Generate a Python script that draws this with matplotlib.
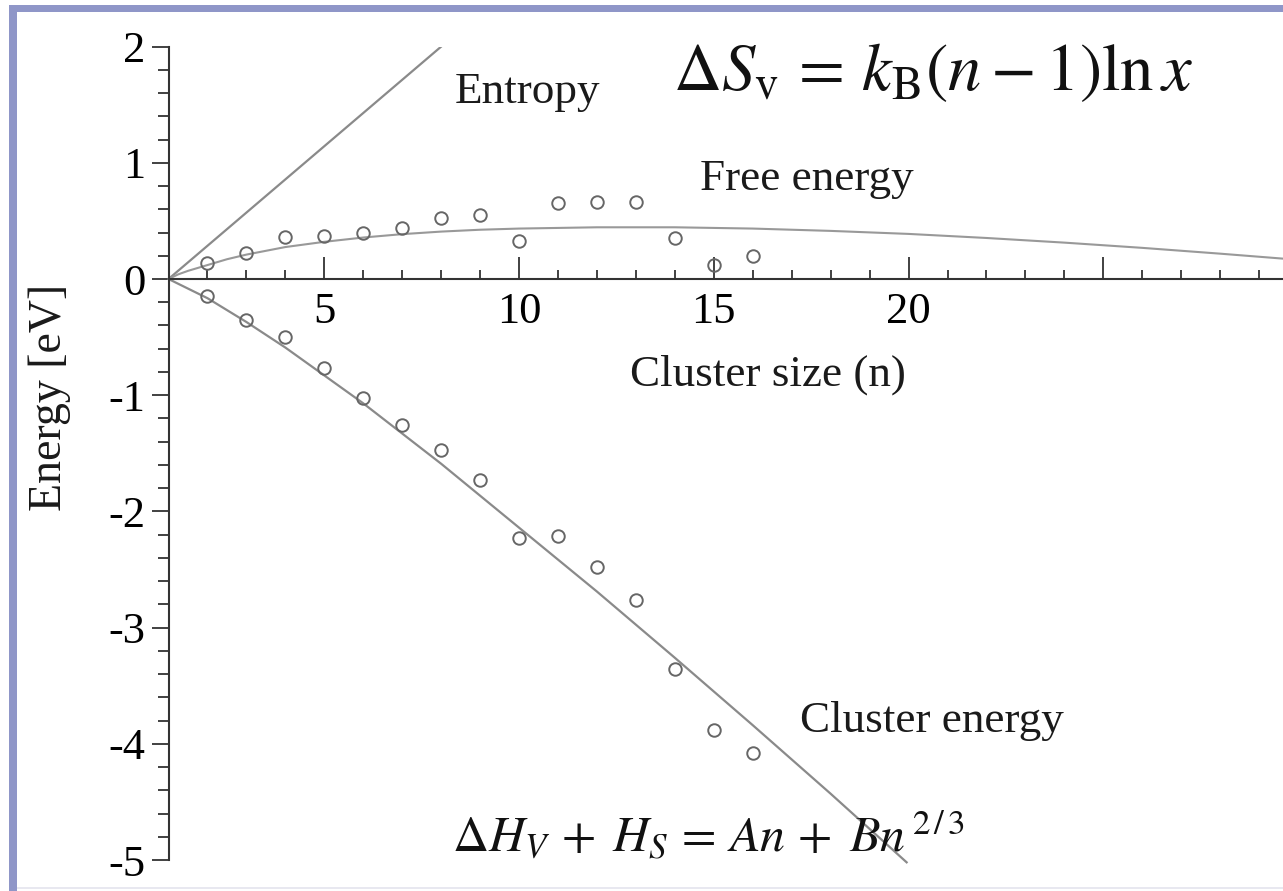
#!/usr/bin/env python
import numpy as np
from matplotlib import pyplot as plt
from matplotlib.patches import Rectangle
from matplotlib.ticker import FixedLocator, FixedFormatter, MultipleLocator

plt.rcParams['font.family'] = 'Liberation Serif'
plt.rcParams['mathtext.fontset'] = 'stix'
plt.rcParams['axes.unicode_minus'] = False

# computed points (open circles)
n_pts = [2, 3, 4, 5, 6, 7, 8, 9, 10, 11, 12, 13, 14, 15, 16]
free_pts = [0.14, 0.22, 0.36, 0.37, 0.40, 0.44, 0.525, 0.555, 0.33,
            0.65, 0.66, 0.66, 0.35, 0.12, 0.20]
cluster_pts = [-0.15, -0.35, -0.50, -0.77, -1.02, -1.26, -1.47, -1.73,
               -2.23, -2.21, -2.48, -2.76, -3.36, -3.88, -4.08]

# fitted curves
entropy_n = [1, 8]
entropy_e = [0.0, 2.0]

free_n = [1, 1.25, 1.5, 2, 2.5, 3, 4, 5, 6, 7, 8, 9, 10, 12, 14, 16, 18,
          20, 22, 24, 26, 28, 30]
free_e = [0.0, 0.04, 0.07, 0.12, 0.17, 0.21, 0.275, 0.32, 0.357, 0.386,
          0.408, 0.424, 0.434, 0.445, 0.445, 0.434, 0.414, 0.388, 0.353,
          0.313, 0.268, 0.218, 0.165]

cluster_n = [1, 2, 3, 4, 5, 6, 8, 10, 12, 14, 16, 18, 19.95]
cluster_e = [0.0, -0.165, -0.37, -0.59, -0.83, -1.07, -1.59, -2.14,
             -2.69, -3.26, -3.84, -4.43, -5.02]

xticks = [5, 10, 15, 20, 25]
xticklabels = ['5', '10', '15', '20', '']
yticks = [-5, -4, -3, -2, -1, 0, 1, 2]

W, H = 1283, 891
fig = plt.figure(figsize=(W / 100, H / 100), dpi=100)
ax = fig.add_axes([168.5 / W, 31.0 / H, 1129.6 / W, 813.4 / H])

line_col = '#8a8a8a'
ax.plot(entropy_n, entropy_e, '-', color=line_col, lw=1.6)
ax.plot(free_n, free_e, '-', color='#999999', lw=1.5)
ax.plot(cluster_n, cluster_e, '-', color=line_col, lw=1.6, clip_on=False)
ax.plot(n_pts, free_pts, 'o', mfc='none', mec='#666666', ms=9, mew=1.4)
ax.plot(n_pts, cluster_pts, 'o', mfc='none', mec='#666666', ms=9, mew=1.4)

ax.set_xlim(1, 30)
ax.set_ylim(-5, 2)

ax.spines['top'].set_visible(False)
ax.spines['right'].set_visible(False)
ax.spines['bottom'].set_position(('data', 0))
for s in ('left', 'bottom'):
    ax.spines[s].set_color('#333333')
    ax.spines[s].set_linewidth(1.5)

ax.xaxis.set_major_locator(FixedLocator(xticks))
ax.xaxis.set_major_formatter(FixedFormatter(xticklabels))
ax.xaxis.set_minor_locator(MultipleLocator(1))
ax.yaxis.set_major_locator(FixedLocator(yticks))
ax.yaxis.set_minor_locator(MultipleLocator(0.2))

ax.tick_params(axis='x', which='major', direction='in', length=16, width=1.3,
               color='#333333', labelsize=32, pad=9)
ax.tick_params(axis='x', which='minor', direction='in', length=6.5, width=1.3,
               color='#333333')
ax.tick_params(axis='y', which='major', direction='out', length=12.5, width=1.3,
               color='#333333', labelsize=32, pad=4)
ax.tick_params(axis='y', which='minor', direction='out', length=8, width=1.3,
               color='#333333')

lbl = dict(fontsize=32.5, color='#1a1a1a', ha='left', va='baseline')
ax.text(8.36, 1.515, 'Entropy', **lbl)
ax.text(14.65, 0.766, 'Free energy', **lbl)
ax.text(12.85, -0.92, 'Cluster size (n)', **lbl)
ax.text(17.21, -3.896, 'Cluster energy', **lbl)

fig.text(50 / W, 1 - 397 / H, 'Energy [eV]', rotation=90, fontsize=33,
         color='#1a1a1a', ha='center', va='center')

fig.text(673 / W, 1 - 90 / H,
         r'$\Delta S_{\rm v}\,=\,k_{\rm B}(n-1)\ln x$',
         fontsize=48, color='#111111', ha='left', va='baseline')
fig.text(452 / W, 1 - 852 / H,
         r'$\Delta H_V\,+\;H_S\,=\,An\,+\;Bn^{\,2\,/\,3}$',
         fontsize=36, color='#111111', ha='left', va='baseline')

# frame around the figure
frame = '#8f96c8'
fig.add_artist(Rectangle((9 / W, 1 - 12 / H), 1 - 9 / W, 7 / H,
                         transform=fig.transFigure, color=frame, lw=0))
fig.add_artist(Rectangle((9 / W, 0), 8 / W, 1 - 5 / H,
                         transform=fig.transFigure, color=frame, lw=0))
fig.add_artist(Rectangle((17 / W, 2 / H), 1 - 17 / W, 2 / H,
                         transform=fig.transFigure, color='#e8e8f0', lw=0))

plt.savefig('out.png', dpi=100)
